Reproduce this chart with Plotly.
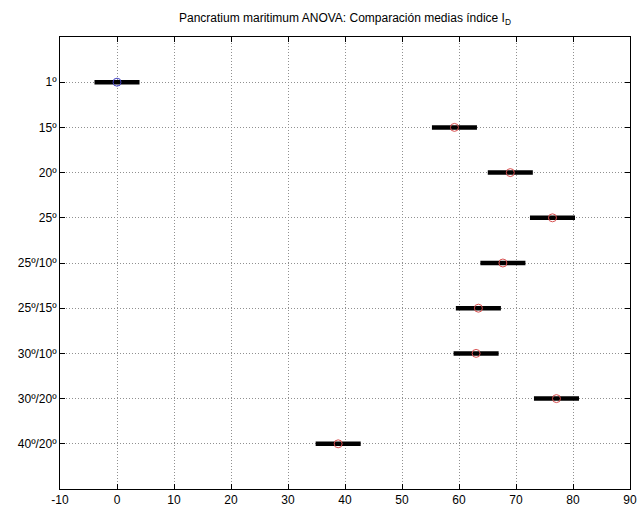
import plotly.graph_objects as go

categories = ["1º", "15º", "20º", "25º", "25º/10º", "25º/15º", "30º/10º", "30º/20º", "40º/20º"]
means = [0.0, 59.2, 69.0, 76.4, 67.7, 63.4, 63.0, 77.1, 38.8]
half_width = [3.95] * 9
marker_colors = ["#4040c0"] + ["#d85050"] * 8
x_ticks = [-10, 0, 10, 20, 30, 40, 50, 60, 70, 80, 90]
x_tick_labels = ["-10", "0", "10", "20", "30", "40", "50", "60", "70", "80", "90"]

fig = go.Figure()
fig.add_trace(go.Scatter(
    x=means, y=categories, mode="markers",
    marker=dict(symbol="circle-open", size=8, color=marker_colors, line=dict(width=1)),
    error_x=dict(type="data", array=half_width, symmetric=True, thickness=4.5, width=0, color="black"),
    showlegend=False, hoverinfo="x+y",
))

font = "Liberation Sans, Arial, sans-serif"
fig.update_layout(
    width=641, height=509,
    margin=dict(l=60, r=11, t=37, b=20),
    paper_bgcolor="white", plot_bgcolor="white",
    font=dict(family=font, size=12, color="black"),
    title=dict(text="Pancratium maritimum ANOVA: Comparación medias índice I<sub>D</sub>",
               x=0.5, xref="paper", xanchor="center", y=1 - 18 / 509, yref="container", yanchor="middle",
               font=dict(family=font, size=12, color="black")),
)
fig.update_xaxes(
    range=[-10, 90], tickvals=x_ticks, ticktext=x_tick_labels, ticks="inside", ticklen=5, tickcolor="black",
    showline=True, linecolor="black", linewidth=1, mirror="ticks",
    showgrid=True, gridcolor="#909090", griddash="1px,2px", gridwidth=1,
    zeroline=False, automargin=False, tickfont=dict(size=12),
)
fig.update_yaxes(
    type="category", categoryorder="array", categoryarray=categories,
    range=[len(categories), -1], ticks="inside", ticklen=5, tickcolor="black",
    showline=True, linecolor="black", linewidth=1, mirror="ticks",
    showgrid=True, gridcolor="#909090", griddash="1px,2px", gridwidth=1,
    zeroline=False, automargin=False, tickfont=dict(size=12),
)
fig.write_html("out.html", config={"displayModeBar": False})

with open("out.html", "r", encoding="utf-8") as f:
    html = f.read()
html = html.replace("<head>", "<head><style>html,body{margin:0;padding:0;overflow:hidden}</style>", 1)
with open("out.html", "w", encoding="utf-8") as f:
    f.write(html)
